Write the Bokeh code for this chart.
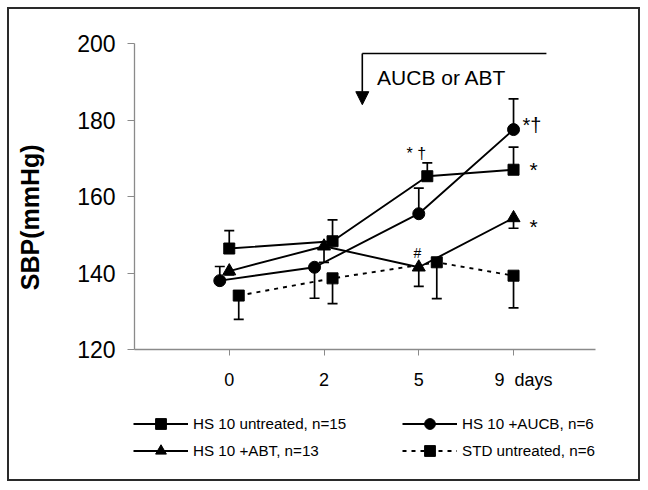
from bokeh.plotting import figure
from bokeh.layouts import column
from bokeh.models import (ColumnDataSource, Whisker, TeeHead, Label, Arrow, NormalHead,
                          FixedTicker, Legend, LegendItem)
from bokeh.embed import file_html
from bokeh.resources import INLINE

# ---------------- data ----------------
day_labels = ["0", "2", "5", "9  days"]
day_index = [0, 1, 2, 3]

# x position of each series' markers in category units (series are slightly shifted)
x_untreated = [0.0, 1.09, 2.09, 3.0]
x_aucb = [-0.1, 0.9, 2.0, 3.0]
x_abt = [0.0, 1.0, 2.0, 3.0]
x_std = [0.1, 1.09, 2.19, 3.0]

sbp_untreated = [146.4, 148.3, 165.3, 167.0]
err_untreated = [4.7, 5.6, 3.5, 5.9]
dir_untreated = [1, 1, 1, 1]          # +1 bar drawn up, -1 bar drawn down

sbp_aucb = [138.0, 141.5, 155.5, 177.5]
err_aucb = [3.7, 8.1, 6.7, 8.0]
dir_aucb = [1, -1, 1, 1]

sbp_abt = [140.5, 147.0, 141.5, 154.4]
err_abt = [1.0, 4.2, 5.0, 2.7]
dir_abt = [-1, -1, -1, -1]

sbp_std = [134.1, 138.6, 142.8, 139.3]
err_std = [6.2, 6.6, 9.5, 8.4]
dir_std = [-1, -1, -1, -1]

legend_labels = ["HS 10 untreated, n=15", "HS 10 +AUCB, n=6", "HS 10 +ABT, n=13", "STD untreated, n=6"]

FONT = "Liberation Sans"
W = 629
NB = "\u00a0"

p = figure(width=W, height=391, output_backend="svg", toolbar_location=None,
           x_range=(-1.0, 3.865), y_range=(120, 200),
           min_border_left=125, min_border_right=43, min_border_top=34, min_border_bottom=51)
p.frame_align = False
p.outline_line_color = None
p.grid.visible = False
p.background_fill_color = "white"
p.border_fill_color = "white"

axis_col = "#8a8a8a"
p.xaxis.ticker = FixedTicker(ticks=day_index)
# no-break spaces keep the double space and set "9  days" slightly right of its tick, as in the reference
p.xaxis.major_label_overrides = {i: (NB * 4 + s.replace(" ", NB) if " " in s else s)
                                 for i, s in zip(day_index, day_labels)}
p.xaxis.major_label_text_font = FONT
p.xaxis.major_label_text_font_size = "18px"
p.xaxis.major_label_text_color = "black"
p.xaxis.major_label_standoff = 14
p.xaxis.major_tick_out = 6
p.xaxis.major_tick_in = 0
p.xaxis.minor_tick_line_color = None
p.xaxis.axis_line_color = axis_col
p.xaxis.major_tick_line_color = axis_col
p.xaxis.axis_line_width = 1.3

p.yaxis.ticker = FixedTicker(ticks=[120, 140, 160, 180, 200])
p.yaxis.major_label_text_font = FONT
p.yaxis.major_label_text_font_size = "23px"
p.yaxis.major_label_text_color = "black"
p.yaxis.major_label_standoff = 12
p.yaxis.major_tick_out = 7
p.yaxis.major_tick_in = 0
p.yaxis.minor_tick_line_color = None
p.yaxis.axis_line_color = axis_col
p.yaxis.major_tick_line_color = axis_col
p.yaxis.axis_line_width = 1.3
# trailing no-break spaces push the (centred) rotated title down to where the reference has it
p.yaxis.axis_label = "SBP(mmHg)" + NB * 6
p.yaxis.axis_label_text_font = FONT
p.yaxis.axis_label_text_font_size = "25px"
p.yaxis.axis_label_text_font_style = "bold"
p.yaxis.axis_label_text_color = "black"
p.yaxis.axis_label_standoff = 30

# ---------------- error bars ----------------
def add_bars(xs, ys, es, ds):
    up = dict(base=[], lower=[], upper=[])
    dn = dict(base=[], lower=[], upper=[])
    for x, y, e, d in zip(xs, ys, es, ds):
        if d > 0:
            up["base"].append(x); up["lower"].append(y); up["upper"].append(y + e)
        else:
            dn["base"].append(x); dn["lower"].append(y - e); dn["upper"].append(y)
    if up["base"]:
        p.add_layout(Whisker(source=ColumnDataSource(up), base="base", lower="lower", upper="upper",
                             line_color="black", line_width=1.7, lower_head=None,
                             upper_head=TeeHead(size=10, line_width=1.7, line_color="black"),
                             level="underlay"))
    if dn["base"]:
        p.add_layout(Whisker(source=ColumnDataSource(dn), base="base", lower="lower", upper="upper",
                             line_color="black", line_width=1.7, upper_head=None,
                             lower_head=TeeHead(size=10, line_width=1.7, line_color="black"),
                             level="underlay"))

add_bars(x_untreated, sbp_untreated, err_untreated, dir_untreated)
add_bars(x_aucb, sbp_aucb, err_aucb, dir_aucb)
add_bars(x_abt, sbp_abt, err_abt, dir_abt)
add_bars(x_std, sbp_std, err_std, dir_std)

# ---------------- series ----------------
styles = [
    dict(marker="square", size=11, dash="solid"),
    dict(marker="circle", size=12, dash="solid"),
    dict(marker="triangle", size=13, dash="solid"),
    dict(marker="square", size=11, dash="4 5"),
]
series = [(x_untreated, sbp_untreated), (x_aucb, sbp_aucb), (x_abt, sbp_abt), (x_std, sbp_std)]
for (xs, ys), st in zip(series, styles):
    p.line(xs, ys, line_color="black", line_width=1.9, line_dash=st["dash"])
    p.scatter(xs, ys, marker=st["marker"], size=st["size"], fill_color="black", line_color="black")

# ---------------- significance marks ----------------
def mark(txt, x, y, size, align="left"):
    p.add_layout(Label(x=x, y=y, text=txt, text_font=FONT, text_font_size=size,
                       text_color="black", text_align=align, text_baseline="alphabetic"))

mark("* †", 1.975, 171.3, "16px", align="center")
mark("*†", 3.094, 178.8, "20px")
mark("*", 3.168, 167.0, "21px")
mark("*", 3.168, 152.1, "21px")
mark("#", 1.985, 145.1, "14px", align="center")

# ---------------- treatment arrow ----------------
p.line([1.404, 3.347], [197.4, 197.4], line_color="black", line_width=1.6)
p.add_layout(Arrow(x_start=1.404, y_start=197.4, x_end=1.404, y_end=184.0,
                   line_color="black", line_width=1.6,
                   end=NormalHead(size=13, fill_color="black", line_color="black")))
p.add_layout(Label(x=1.56, y=191.1, text="AUCB or ABT", text_font=FONT,
                   text_font_size="21px", text_color="black", text_baseline="middle"))

# ---------------- legend strip (separate plot below the chart) ----------------
p2 = figure(width=W, height=79, output_backend="svg", toolbar_location=None,
            x_range=(0, 1), y_range=(0, 1), x_axis_type=None, y_axis_type=None,
            min_border=0)
p2.frame_align = False
p2.outline_line_color = None
p2.grid.visible = False
p2.border_fill_color = "white"

leg_items = []
for lab, st in zip(legend_labels, styles):
    # renderers that only exist to give the legend its glyphs (point kept outside the view)
    rl = p2.line(x=[-5, -4], y=[-5, -5], line_color="black", line_width=1.9, line_dash=st["dash"])
    rm = p2.scatter(x=[-5], y=[-5], marker=st["marker"], size=st["size"],
                    fill_color="black", line_color="black")
    leg_items.append(LegendItem(label=lab, renderers=[rl, rm]))

def make_legend(items, loc):
    lg = Legend(items=items, location=loc, orientation="vertical",
                glyph_width=55, glyph_height=27, label_standoff=5, spacing=-5,
                padding=0, margin=0, border_line_color=None, background_fill_alpha=0,
                label_text_font=FONT, label_text_font_size="15.2px", label_text_color="black",
                label_height=20)
    p2.add_layout(lg)

make_legend([leg_items[0], leg_items[2]], (124, 15))
make_legend([leg_items[1], leg_items[3]], (393, 15))

layout = column(p, p2, spacing=0)
layout.styles = {"margin": "7px 0 0 7px", "border": "2px solid #2a2a2a"}

open("out.html", "w").write(file_html(layout, INLINE))
